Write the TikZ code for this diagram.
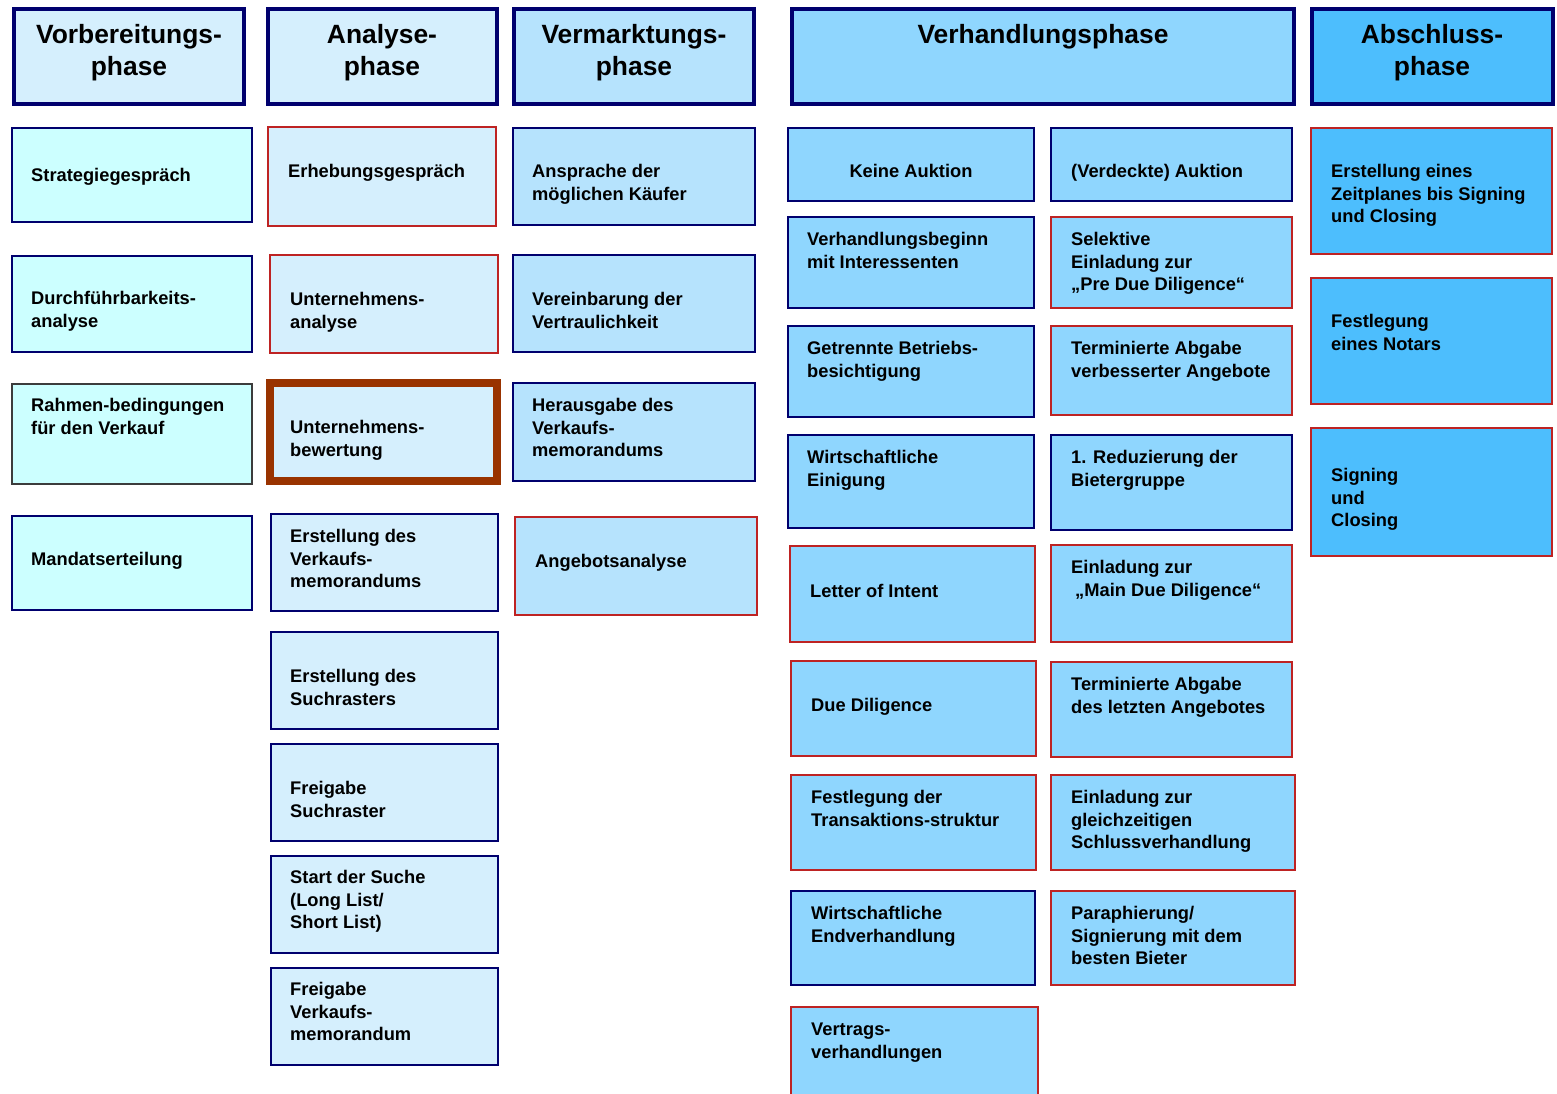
\documentclass[tikz,border=0pt]{standalone}
\usepackage{fontspec}
\setmainfont{Liberation Sans}
\definecolor{navy}{RGB}{0,0,110}
\definecolor{redb}{RGB}{190,35,35}
\definecolor{brownb}{RGB}{153,51,0}
\definecolor{greyb}{RGB}{60,60,60}
\definecolor{fa}{RGB}{204,255,255}
\definecolor{fb}{RGB}{213,239,253}
\definecolor{fc}{RGB}{182,227,253}
\definecolor{fd}{RGB}{143,214,254}
\definecolor{fe}{RGB}{77,190,253}
\newcommand\mybox[6]{\node[#6, minimum width={#4-#2}, minimum height={#5-#3}, inner sep=0pt, outer sep=0pt] (#1) at ({(#2+#4)/2},{(#3+#5)/2}) {};}
\tikzset{
  nb/.style={draw=navy, line width=2pt},
  rb/.style={draw=redb, line width=1.5pt},
  gb/.style={draw=greyb, line width=1.5pt},
  bb/.style={draw=brownb, line width=8pt},
  hd/.style={draw=navy, line width=4pt},
  txt/.style={font=\bfseries\fontsize{18.3}{22.5}\selectfont, align=left, inner sep=0pt, anchor=base west},
  htxt/.style={font=\bfseries\fontsize{26.4}{32}\selectfont, align=center, inner sep=0pt, anchor=base},
}
\begin{document}
\begin{tikzpicture}[x=1pt,y=-1pt]
\useasboundingbox (0,0) rectangle (1557,1093);
\clip (0,0) rectangle (1557,1093);
% headers
\mybox{h1}{14}{9}{244}{104}{hd, fill=fb}
\mybox{h2}{268}{9}{497}{104}{hd, fill=fb}
\mybox{h3}{514}{9}{754}{104}{hd, fill=fc}
\mybox{h4}{792}{9}{1294}{104}{hd, fill=fd}
\mybox{h5}{1312}{9}{1553}{104}{hd, fill=fe}
\node[htxt] (h1t) at (129,75.5) {Vorbereitungs-\\phase};
\node[htxt] (h2t) at (382,75.5) {Analyse-\\phase};
\node[htxt] (h3t) at (634,75.5) {Vermarktungs-\\phase};
\node[htxt] (h4t) at (1043,43.5) {Verhandlungsphase};
\node[htxt] (h5t) at (1432,75.5) {Abschluss-\\phase};
% column 1
\mybox{a1}{12}{128}{252}{222}{nb, fill=fa}
\mybox{a2}{12}{256}{252}{352}{nb, fill=fa}
\mybox{a3}{12}{384}{252}{484}{gb, fill=fa}
\mybox{a4}{12}{516}{252}{610}{nb, fill=fa}
\node[txt] (a1t) at (31,181.5) {Strategiegespräch};
\node[txt] (a2t) at (31,327) {Durchführbarkeits-\\analyse};
\node[txt] (a3t) at (31,434) {Rahmen-bedingungen\\für den Verkauf};
\node[txt] (a4t) at (31,565.5) {Mandatserteilung};
% column 2
\mybox{b1}{268}{127}{496}{226}{rb, fill=fb}
\mybox{b2}{270}{255}{498}{353}{rb, fill=fb}
\mybox{b3}{270}{383}{497}{481}{bb, fill=fb}
\mybox{b4}{271}{514}{498}{611}{nb, fill=fb}
\mybox{b5}{271}{632}{498}{729}{nb, fill=fb}
\mybox{b6}{271}{744}{498}{841}{nb, fill=fb}
\mybox{b7}{271}{856}{498}{953}{nb, fill=fb}
\mybox{b8}{271}{968}{498}{1065}{nb, fill=fb}
\node[txt] (b1t) at (288,177.5) {Erhebungsgespräch};
\node[txt] (b2t) at (290,328) {Unternehmens-\\analyse};
\node[txt] (b3t) at (290,456) {Unternehmens-\\bewertung};
\node[txt] (b4t) at (290,587.5) {Erstellung des\\Verkaufs-\\memorandums};
\node[txt] (b5t) at (290,705) {Erstellung des\\Suchrasters};
\node[txt] (b6t) at (290,817) {Freigabe\\Suchraster};
\node[txt] (b7t) at (290,928.5) {Start der Suche\\(Long List/\\Short List)};
\node[txt] (b8t) at (290,1040.5) {Freigabe\\Verkaufs-\\memorandum};
% column 3
\mybox{c1}{513}{128}{755}{225}{nb, fill=fc}
\mybox{c2}{513}{255}{755}{352}{nb, fill=fc}
\mybox{c3}{513}{383}{755}{481}{nb, fill=fc}
\mybox{c4}{515}{517}{757}{615}{rb, fill=fc}
\node[txt] (c1t) at (532,200) {Ansprache der\\möglichen Käufer};
\node[txt] (c2t) at (532,328) {Vereinbarung der\\Vertraulichkeit};
\node[txt] (c3t) at (532,456.5) {Herausgabe des\\Verkaufs-\\memorandums};
\node[txt] (c4t) at (535,567.5) {Angebotsanalyse};
% column 4 left
\mybox{d1}{788}{128}{1034}{201}{nb, fill=fd}
\mybox{d2}{788}{217}{1034}{308}{nb, fill=fd}
\mybox{d3}{788}{326}{1034}{417}{nb, fill=fd}
\mybox{d4}{788}{435}{1034}{528}{nb, fill=fd}
\mybox{d5}{790}{546}{1035}{642}{rb, fill=fd}
\mybox{d6}{791}{661}{1036}{756}{rb, fill=fd}
\mybox{d7}{791}{775}{1036}{870}{rb, fill=fd}
\mybox{d8}{791}{891}{1035}{985}{nb, fill=fd}
\mybox{d9}{791}{1007}{1038}{1100}{rb, fill=fd}
\node[txt, anchor=base] (d1t) at (911,177.5) {Keine Auktion};
\node[txt] (d2t) at (807,268) {Verhandlungsbeginn\\mit Interessenten};
\node[txt] (d3t) at (807,377) {Getrennte Betriebs-\\besichtigung};
\node[txt] (d4t) at (807,486) {Wirtschaftliche\\Einigung};
\node[txt] (d5t) at (810,597.5) {Letter of Intent};
\node[txt] (d6t) at (811,711.5) {Due Diligence};
\node[txt] (d7t) at (811,826) {Festlegung der\\Transaktions-struktur};
\node[txt] (d8t) at (811,942) {Wirtschaftliche\\Endverhandlung};
\node[txt] (d9t) at (811,1058) {Vertrags-\\verhandlungen};
% column 4 right
\mybox{e1}{1051}{128}{1292}{201}{nb, fill=fd}
\mybox{e2}{1051}{217}{1292}{308}{rb, fill=fd}
\mybox{e3}{1051}{326}{1292}{415}{rb, fill=fd}
\mybox{e4}{1051}{435}{1292}{530}{nb, fill=fd}
\mybox{e5}{1051}{545}{1292}{642}{rb, fill=fd}
\mybox{e6}{1051}{662}{1292}{757}{rb, fill=fd}
\mybox{e7}{1051}{775}{1295}{870}{rb, fill=fd}
\mybox{e8}{1051}{891}{1295}{985}{rb, fill=fd}
\node[txt] (e1t) at (1071,177.5) {(Verdeckte) Auktion};
\node[txt] (e2t) at (1071,290.5) {Selektive\\Einladung zur\\„Pre Due Diligence“};
\node[txt] (e3t) at (1071,377) {Terminierte Abgabe\\verbesserter Angebote};
\node[txt] (e4t) at (1071,486) {1. Reduzierung der\\Bietergruppe};
\node[txt] (e5t) at (1071,596) {Einladung zur\\\hspace*{4pt}„Main Due Diligence“};
\node[txt] (e6t) at (1071,713) {Terminierte Abgabe\\des letzten Angebotes};
\node[txt] (e7t) at (1071,848.5) {Einladung zur\\gleichzeitigen\\Schlussverhandlung};
\node[txt] (e8t) at (1071,964.5) {Paraphierung/\\Signierung mit dem\\besten Bieter};
% column 5
\mybox{f1}{1311}{128}{1552}{254}{rb, fill=fe}
\mybox{f2}{1311}{278}{1552}{404}{rb, fill=fe}
\mybox{f3}{1311}{428}{1552}{556}{rb, fill=fe}
\node[txt] (f1t) at (1331,222.5) {Erstellung eines\\Zeitplanes bis Signing\\und Closing};
\node[txt] (f2t) at (1331,350) {Festlegung\\eines Notars};
\node[txt] (f3t) at (1331,526.5) {Signing\\und\\Closing};
\end{tikzpicture}
\end{document}
